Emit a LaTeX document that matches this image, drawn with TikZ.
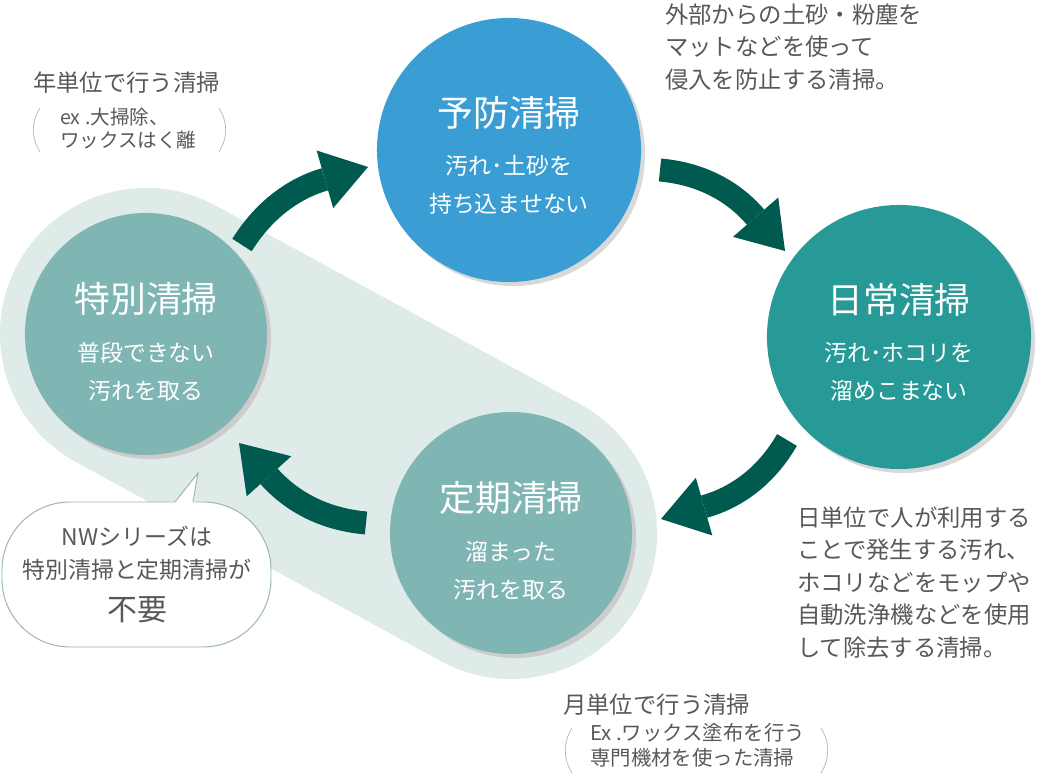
\documentclass[tikz,border=0pt]{standalone}
\usepackage{fontspec}
\setmainfont{Noto Sans CJK JP}
\usetikzlibrary{arrows.meta,calc,backgrounds}

\definecolor{prevblue}{HTML}{3A9ED4}
\definecolor{dailyteal}{HTML}{279A98}
\definecolor{paleteal}{HTML}{7FB6B4}
\definecolor{halogreen}{HTML}{DFEBE9}
\definecolor{arrowgreen}{HTML}{005A50}
\definecolor{textgray}{HTML}{595757}
\definecolor{parengray}{HTML}{B4B4B4}
\definecolor{bubbleline}{HTML}{9AB6B4}

\tikzset{
  bigcirc/.style={circle, inner sep=0pt, minimum size=6.6cm,
    preaction={fill=black!15, transform canvas={shift={(0.1cm,-0.1cm)}}}},
  smallcirc/.style={circle, inner sep=0pt, minimum size=6.05cm,
    preaction={fill=black!20, transform canvas={shift={(0.1cm,-0.1cm)}}}},
  ttl/.style={text=white, inner sep=0pt, font=\fontsize{25.5}{30}\selectfont},
  subtxt/.style={text=white, inner sep=0pt, align=center, font=\fontsize{16.3}{27.4}\selectfont},
  note/.style={text=textgray, inner sep=0pt, anchor=west, align=left, font=\fontsize{16.6}{23}\selectfont},
  notesmall/.style={text=textgray, inner sep=0pt, anchor=west, align=left, font=\fontsize{13.9}{16.3}\selectfont},
  paren/.style={draw=parengray, line width=0.5pt},
  cyclearrow/.style={draw=arrowgreen, line width=0.575cm,
    -{Triangle[width=1.5cm, length=1.12cm, line width=0pt]}},
  bubble/.style={draw=bubbleline, fill=white, line width=0.7pt}
}

\begin{document}
\begin{tikzpicture}[x=0.025cm, y=0.025cm]
    \useasboundingbox (0,0) rectangle (1040,775);

    % Circles
    \node[bigcirc, fill=prevblue] (yobou) at (509,625) {};
    \node[bigcirc, fill=dailyteal] (nichijou) at (899,438) {};
    \node[smallcirc, fill=paleteal] (tokubetsu) at (146,441) {};
    \node[smallcirc, fill=paleteal] (teiki) at (511,242) {};

    % Band behind the two periodic cleanings
    \begin{scope}[on background layer]
        \draw[halogreen, line width=7.3cm, line cap=round] (tokubetsu.center) -- (teiki.center);
    \end{scope}

    % Circle texts
    \node[ttl] (yobouTtl) at ($(yobou)+(0,37)$) {予防清掃};
    \node[subtxt] (yobouSub) at ($(yobou)+(0,-35)$) {汚れ･土砂を\\持ち込ませない};
    \node[ttl] (nichijouTtl) at ($(nichijou)+(0,37)$) {日常清掃};
    \node[subtxt] (nichijouSub) at ($(nichijou)+(0,-35)$) {汚れ･ホコリを\\溜めこまない};
    \node[ttl] (tokubetsuTtl) at ($(tokubetsu)+(0,35)$) {特別清掃};
    \node[subtxt] (tokubetsuSub) at ($(tokubetsu)+(0,-38)$) {普段できない\\汚れを取る};
    \node[ttl] (teikiTtl) at ($(teiki)+(0,35)$) {定期清掃};
    \node[subtxt] (teikiSub) at ($(teiki)+(0,-38)$) {溜まった\\汚れを取る};

    % Arrows
    \draw[cyclearrow] ($(tokubetsu)+(96,89)$) to[out=58, in=196] ($(yobou)+(-141,-17)$);
    \draw[cyclearrow] ($(yobou)+(151,-20)$) to[out=-5, in=131] ($(nichijou)+(-114,86)$);
    \draw[cyclearrow] ($(nichijou)+(-112,-103)$) to[out=240, in=16] ($(teiki)+(150,14)$);
    \draw[cyclearrow] ($(teiki)+(-145,10)$) to[out=175, in=-48] ($(tokubetsu)+(93,-109)$);

    % Notes
    \node[note] (yobouNote) at (665,728) {外部からの土砂・粉塵を\\マットなどを使って\\侵入を防止する清掃。};
    \node[note, font=\fontsize{16.6}{23.2}\selectfont] (nichijouNote) at (797,192.5)
        {日単位で人が利用する\\ことで発生する汚れ、\\ホコリなどをモップや\\自動洗浄機などを使用\\して除去する清掃。};
    \node[note] (tokubetsuNote) at (33,692) {年単位で行う清掃};
    \node[notesmall] (tokubetsuEx) at (60,646.5) {ex .大掃除、\\ワックスはく離};
    \node[note] (teikiNote) at (563,70) {月単位で行う清掃};
    \node[notesmall, font=\fontsize{14.5}{17.7}\selectfont] (teikiEx) at (590,29.5) {Ex .ワックス塗布を行う\\専門機材を使った清掃};

    % Brackets
    \draw[paren] (40,667) .. controls (31,652) and (31,638) .. (40,623);
    \draw[paren] (219,667) .. controls (228,652) and (228,638) .. (219,623);
    \draw[paren] (572,47) .. controls (563,32) and (563,17) .. (572,2);
    \draw[paren] (821,47) .. controls (830,32) and (830,17) .. (821,2);

    % Speech bubble
    \draw[bubble, rounded corners=1.7cm] (2,128) rectangle (271,273);
    \fill[white] (174,271.5) -- (198,302) -- (194,271.5) -- cycle;
    \draw[bubble, fill=none] (175,273) -- (198,302) -- (193,273);
    \node[text=textgray, inner sep=0pt, align=center, font=\fontsize{16.3}{23.4}\selectfont] (bubbleTxt) at (137,221.5)
        {NWシリーズは\\特別清掃と定期清掃が};
    \node[text=textgray, inner sep=0pt, font=\fontsize{21.3}{25}\selectfont] (bubbleKey) at (137,165) {不要};
\end{tikzpicture}
\end{document}
